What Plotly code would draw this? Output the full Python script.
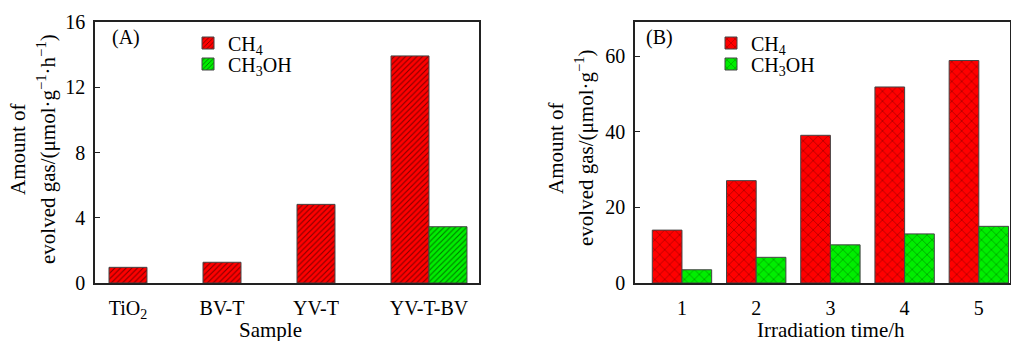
import plotly.graph_objects as go

# ---------------- data ----------------
samples = ["TiO<sub>2</sub>", "BV-T", "YV-T", "YV-T-BV"]
a_ch4 = [0.96, 1.27, 4.82, 13.92]
a_ch3oh = [None, None, None, 3.45]

hours = [1, 2, 3, 4, 5]
b_ch4 = [14.0, 27.1, 39.1, 51.9, 58.9]
b_ch3oh = [3.5, 6.8, 10.1, 13.0, 15.0]

W, H = 1011, 341
FONT = "Liberation Serif"
RED = "#ff0000"
GREEN = "#00ee00"
LINE = "#444444"

def px_x(p):
    return p / W

def px_y(p):
    return 1 - p / H

fig = go.Figure()

# ---------- panel A ----------
wa = 0.404
pos_a = list(range(len(samples)))
fig.add_bar(x=pos_a, y=a_ch4, name="CH<sub>4</sub>", width=wa, offset=-wa / 2,
            marker=dict(color=RED, line=dict(color=LINE, width=1),
                        pattern=dict(shape="/", fillmode="overlay", fgcolor="black",
                                     fgopacity=0.5, size=4, solidity=0.28)),
            xaxis="x", yaxis="y", legend="legend")
fig.add_bar(x=pos_a, y=a_ch3oh, name="CH<sub>3</sub>OH", width=wa, offset=wa / 2,
            marker=dict(color=GREEN, line=dict(color=LINE, width=1),
                        pattern=dict(shape="/", fillmode="overlay", fgcolor="black",
                                     fgopacity=0.5, size=4, solidity=0.28)),
            xaxis="x", yaxis="y", legend="legend2")
tick_a = [p + (wa / 2 if g else 0) for p, g in zip(pos_a, a_ch3oh)]

# ---------- panel B ----------
wb = 0.4
fig.add_bar(x=hours, y=b_ch4, name="CH<sub>4</sub>", width=wb, offset=-wb,
            marker=dict(color=RED, line=dict(color=LINE, width=1),
                        pattern=dict(shape="x", fillmode="overlay", fgcolor="black",
                                     fgopacity=0.6, size=7, solidity=0.12)),
            xaxis="x2", yaxis="y2", legend="legend3")
fig.add_bar(x=hours, y=b_ch3oh, name="CH<sub>3</sub>OH", width=wb, offset=0,
            marker=dict(color=GREEN, line=dict(color=LINE, width=1),
                        pattern=dict(shape="x", fillmode="overlay", fgcolor="black",
                                     fgopacity=0.6, size=7, solidity=0.12)),
            xaxis="x2", yaxis="y2", legend="legend4")

ydom = [px_y(283), px_y(22)]
axis_common = dict(showline=True, linecolor="#222222", linewidth=1.5, mirror=True,
                   showgrid=False, zeroline=False, automargin=False,
                   tickfont=dict(family=FONT, size=20, color="black"))

def leg(x, y):
    return dict(x=px_x(x), y=px_y(y), xanchor="left", yanchor="middle",
                bgcolor="rgba(0,0,0,0)", font=dict(family=FONT, size=20),
                tracegroupgap=0, itemwidth=30)

fig.update_layout(
    width=W, height=H,
    margin=dict(l=0, r=0, t=0, b=0, pad=0, autoexpand=False),
    paper_bgcolor="white", plot_bgcolor="white",
    barmode="overlay",
    font=dict(family=FONT, size=20, color="black"),
    xaxis=dict(domain=[px_x(95), px_x(479)], range=[-0.351, 3.734],
               tickvals=tick_a, ticktext=samples, ticks="", ticklabelstandoff=6,
               anchor="y", **axis_common),
    yaxis=dict(domain=ydom, range=[0, 16], tickvals=[0, 4, 8, 12, 16],
               ticks="inside", ticklen=5, tickcolor="#222222", ticklabelstandoff=4,
               anchor="x", **axis_common),
    xaxis2=dict(domain=[px_x(635), px_x(1010)], range=[0.367, 5.42],
                tickvals=hours, ticks="", ticklabelstandoff=6,
                anchor="y2", **axis_common),
    yaxis2=dict(domain=ydom, range=[0, 69.1], tickvals=[0, 20, 40, 60],
                ticks="inside", ticklen=5, tickcolor="#222222", ticklabelstandoff=4,
                anchor="x2", **axis_common),
    legend=leg(188, 43),
    legend2=leg(188, 64),
    legend3=leg(711, 43),
    legend4=leg(711, 64),
    showlegend=True,
)

def note(text, x, y, angle=0, size=21):
    fig.add_annotation(text=text, x=px_x(x), y=px_y(y), xref="paper", yref="paper",
                       xanchor="center", yanchor="middle", textangle=angle,
                       showarrow=False, font=dict(family=FONT, size=size, color="black"))

note("(A)", 126, 37, size=20)
note("(B)", 659, 37, size=20)
note("Amount of", 18, 149, angle=-90)
note("evolved gas/(μmol·g<sup>−1</sup>·h<sup>−1</sup>)", 46, 149, angle=-90)
note("Amount of", 556, 148, angle=-90)
note("evolved gas/(μmol·g<sup>−1</sup>)", 584, 148, angle=-90)
note("Sample", 270, 330)
note("Irradiation time/h", 831, 330)

fig.write_html("out.html")
